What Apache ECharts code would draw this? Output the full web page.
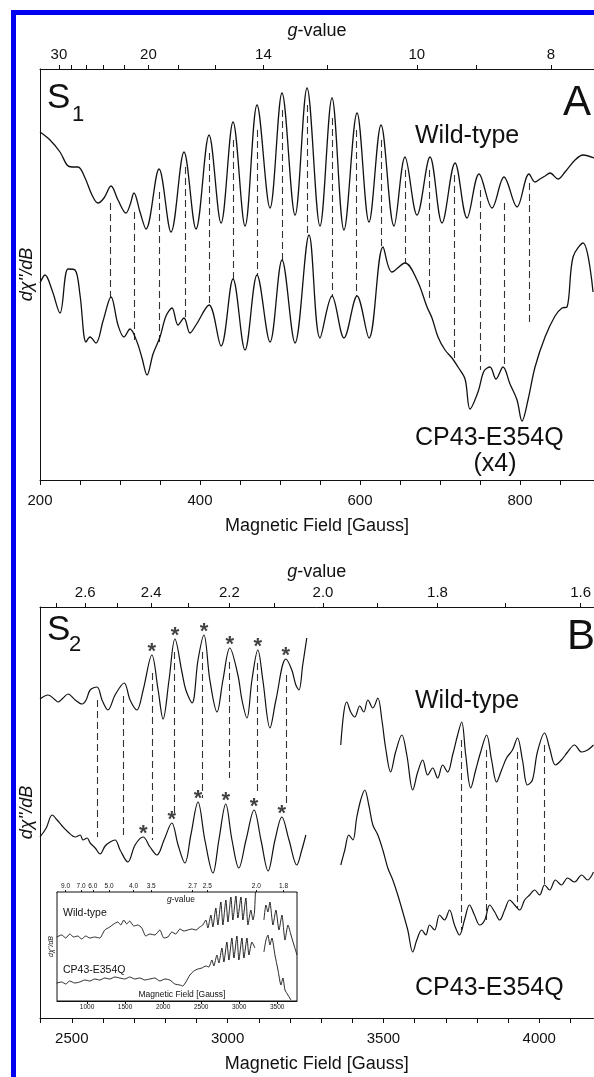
<!DOCTYPE html>
<html><head><meta charset="utf-8">
<script src="https://cdn.jsdelivr.net/npm/echarts@6/dist/echarts.min.js"></script>
<style>html,body{margin:0;padding:0;background:#fff}#c{width:594px;height:1077px}</style>
</head><body><div id="c"></div>
<script>
// ---------- Panel A (S1): [field (G), signal (arb. units)] ----------
const wtA = [[200,348],[212.5,340],[225,328],[233.8,315],[240,313],[247.5,313],[256.3,302],[265,285],[272.5,277],[280,282],[288.8,294],[297.5,280],[307.5,267],[312.5,275],[317.5,287],[325,268],[332.5,251],[348.8,311],[363.8,248],[380,328],[395,251],[411.3,345],[426.3,257],[441.3,358],[456.3,254],[471.3,375],[487.5,272],[502.5,387],[518.8,265],[533.8,392],[550,254],[565,382],[580,250],[596.3,367],[611.3,258],[626.3,355],[642.5,254],[656.3,323],[671.3,265],[687.5,323],[702.5,257],[718.8,317],[733.8,262],[748.8,306],[765,272],[780,303],[796.3,273],[811.3,306],[818.8,298],[825,301],[831.3,304],[837.5,307],[847.5,301],[856.3,308],[868.8,320],[878.8,325],[892.5,322]];
const cpA = [[200,197],[206.3,205],[215,190],[225,167],[235,211],[243.8,210],[250,185],[257.5,138],[262.5,143],[270,137],[278.8,159],[288.8,183],[297.5,155],[305,143],[312.5,151],[321.3,138],[327.5,122],[333.8,105],[341.3,126],[350,143],[357.5,164],[365,172],[372.5,155],[380,162],[387.5,147],[395,155],[411.3,175],[426.3,134],[441.3,201],[456.3,130],[471.3,205],[487.5,138],[502.5,220],[518.8,137],[536.3,245],[550,142],[565,184],[580,142],[596.3,184],[611.3,142],[628.8,233],[640,208],[656.3,217],[671.3,200],[683.8,173],[690,162],[697.5,143],[706.3,130],[715,122],[722.5,113],[731.3,101],[737.5,71],[747.5,88],[755,109],[762.5,113],[770,101],[778.8,113],[787.5,96],[796.3,80],[802.5,59],[810,80],[818.8,113],[831.3,143],[843.8,164],[852.5,172],[858.8,173],[866.3,223],[878.8,237],[891.3,188]];
const dashA_field  = [287.5,317.5,348.8,381.3,411.3,441.3,471.3,502.5,533.8,565,595,626.3,656.3,686.3,717.5,750,780,811.3];
const dashA_top    = [277,268,288,313,327,340,350,370,375,362,350,340,310,310,305,290,277,297];
const dashA_bottom = [183,140,135,162,175,201,205,220,245,184,184,233,217,180,120,110,113,155];

// ---------- Panel B (S2) ----------
const wtB_left = [[2398,319],[2424,323],[2447,318],[2456,316],[2472,320],[2488,324],[2511,318],[2533,314],[2546,318],[2559,328],[2581,331],[2597,318],[2616,308],[2639,323],[2668,335],[2687,318],[2709,308],[2729,328],[2757,363],[2777,328],[2793,299],[2812,338],[2831,379],[2854,345],[2866,328],[2886,315],[2905,358],[2924,383],[2943,338],[2966,306],[2985,338],[3007,370],[3033,343],[3046,318],[3062,300],[3078,338],[3097,368],[3113,338],[3136,290],[3155,318],[3187,359],[3206,348],[3219,333],[3229,328],[3241,353],[3254,380]];
const wtB_right = [[3363,273],[3373,306],[3382,316],[3395,306],[3408,301],[3424,312],[3437,306],[3450,318],[3466,310],[3482,320],[3495,298],[3507,270],[3523,246],[3539,266],[3559,283],[3575,263],[3594,228],[3610,246],[3626,258],[3642,243],[3658,250],[3674,240],[3690,253],[3706,246],[3722,263],[3738,283],[3751,296],[3764,263],[3780,230],[3796,248],[3812,266],[3831,283],[3847,258],[3863,236],[3879,248],[3895,260],[3914,268],[3930,280],[3946,258],[3962,233],[3978,238],[3994,266],[4017,285],[4033,270],[4052,253],[4071,258],[4091,266],[4113,273],[4136,266],[4155,268],[4174,273]];
const cpB_left = [[2398,181],[2418,190],[2437,203],[2453,198],[2469,192],[2488,186],[2511,181],[2527,183],[2536,178],[2549,180],[2559,175],[2575,170],[2591,164],[2607,172],[2623,176],[2639,178],[2655,168],[2680,156],[2703,173],[2729,181],[2751,171],[2773,163],[2796,178],[2821,195],[2841,173],[2863,155],[2882,183],[2905,216],[2927,178],[2953,145],[2972,178],[2994,214],[3014,178],[3036,150],[3059,178],[3085,208],[3107,178],[3130,147],[3152,178],[3174,201],[3197,178],[3222,153],[3238,168],[3251,183]];
const cpB_right = [[3363,153],[3376,168],[3389,183],[3402,178],[3414,200],[3427,218],[3440,228],[3453,213],[3466,193],[3482,183],[3498,168],[3514,150],[3530,138],[3546,123],[3562,106],[3578,88],[3594,66],[3607,78],[3623,88],[3636,83],[3648,93],[3664,88],[3680,103],[3696,98],[3712,108],[3728,93],[3744,83],[3760,98],[3776,113],[3792,103],[3809,93],[3825,98],[3841,113],[3857,106],[3873,98],[3889,108],[3905,118],[3921,113],[3937,108],[3953,118],[3969,123],[3985,128],[4001,123],[4017,133],[4033,128],[4052,138],[4071,133],[4091,140],[4113,136],[4136,143],[4155,138],[4174,146]];
const dashB_field  = [2581,2665,2757,2828,2918,3004,3094,3187,3751,3831,3930,4017];
const dashB_top    = [318,322,345,366,366,356,355,343,278,268,266,273];
const dashB_bottom = [181,180,178,201,220,240,226,215,88,98,110,130];
const starsWT = [[2757,363],[2831,379],[2924,383],[3007,370],[3097,368],[3187,359]];
const starsCP = [[2729,181],[2821,195],[2905,216],[2994,214],[3085,208],[3174,201]];

// ---------- Inset (full sweep) ----------
const inWT1 = [[601,64],[667,66],[720,63],[772,67],[825,64],[878,65],[930,62],[983,65],[1036,63],[1101,64],[1167,63],[1233,71],[1299,74],[1351,77],[1404,79],[1443,76],[1483,81],[1522,77],[1561,80],[1614,75],[1667,76],[1720,73],[1772,65],[1825,67],[1891,66],[1957,71],[2009,63],[2062,64],[2115,69],[2167,67],[2220,72],[2273,70],[2325,71],[2378,72],[2431,71],[2483,74],[2522,76],[2562,81],[2588,73],[2628,86],[2654,74],[2693,93],[2720,76],[2759,99],[2786,76],[2825,101],[2852,79],[2891,104],[2917,81],[2957,105],[2983,83],[3023,104],[3049,81],[3088,103],[3115,76],[3154,91],[3181,81],[3200,88],[3214,109]];
const inWT2 = [[3325,81],[3352,96],[3378,89],[3404,99],[3444,76],[3483,91],[3523,71],[3562,86],[3602,61],[3641,76],[3681,66],[3720,56],[3760,46]];
const inCP1 = [[601,18],[667,19],[720,17],[772,20],[838,18],[904,19],[970,21],[1036,20],[1101,22],[1167,21],[1233,23],[1299,22],[1365,24],[1430,23],[1496,22],[1561,24],[1628,22],[1693,23],[1759,21],[1825,22],[1891,23],[1957,20],[2023,22],[2088,21],[2154,17],[2220,16],[2259,15],[2299,19],[2352,26],[2404,30],[2457,32],[2509,33],[2562,35],[2601,34],[2641,41],[2667,35],[2707,46],[2733,38],[2773,53],[2799,39],[2838,59],[2865,41],[2904,63],[2931,43],[2970,65],[2996,41],[3036,63],[3062,43],[3102,63],[3128,46],[3167,59],[3207,53]];
const inCP2 = [[3325,49],[3352,61],[3378,66],[3404,56],[3431,63],[3470,46],[3510,31],[3549,16],[3575,23],[3602,11],[3641,6],[3681,1]];

// ---------- Axis ticks / labels ----------
const fieldTicksA = [200,250,300,350,400,450,500,550,600,650,700,750,800,850];
const fieldLabelsA = [200,400,600,800];
const gTicksA = [30,28,26,24,22,20,18,16,14,12,10,9,8];
const gLabelsA = [30,20,14,10,8];
const fieldTicksB = [2400,2500,2600,2700,2800,2900,3000,3100,3200,3300,3400,3500,3600,3700,3800,3900,4000,4100];
const fieldLabelsB = [2500,3000,3500,4000];
const gTicksB = [2.7,2.6,2.5,2.4,2.3,2.2,2.1,2.0,1.9,1.8,1.7,1.6];
const gLabelsB = [2.6,2.4,2.2,2.0,1.8,1.6];
const fieldLabelsIn = [1000,1500,2000,2500,3000,3500];
const gLabelsIn = [9.0,7.0,6.0,5.0,4.0,3.5,2.7,2.5,2.0,1.8];
// g·B products (hν/β, in G) used to place the g-value scales
const GB_A = 6710, GB_B = 6612, GB_IN = 6450;

const FONT = '"Liberation Sans", Arial, Helvetica, sans-serif';
const INK = '#111';

function fieldAxis(gi, min, max, ticks, labels, fs, margin, name, nameGap, nameFs, tickLen) {
  return { type:'value', gridIndex:gi, position:'bottom', min, max,
    axisLine:{show:true, onZero:false, lineStyle:{color:INK, width:1}},
    axisTick:{show:true, length:tickLen, customValues:ticks, lineStyle:{color:INK, width:1}},
    axisLabel:{show:true, customValues:labels, formatter:v => String(v), fontSize:fs, margin, color:INK, fontFamily:FONT},
    splitLine:{show:false},
    name, nameLocation:'middle', nameGap,
    nameTextStyle:{fontSize:nameFs, color:INK, fontFamily:FONT} };
}
function gAxis(gi, min, max, C, ticks, labels, dec, fs, margin, nameGap, nameFs, tickLen, showName) {
  return { type:'value', gridIndex:gi, position:'top', min, max,
    axisLine:{show:true, onZero:false, lineStyle:{color:INK, width:1}},
    axisTick:{show:true, length:tickLen, customValues:ticks.map(g => C / g), lineStyle:{color:INK, width:1}},
    axisLabel:{show:true, customValues:labels.map(g => C / g), formatter:v => (C / v).toFixed(dec),
      fontSize:fs, margin, color:INK, fontFamily:FONT},
    splitLine:{show:false},
    name: showName ? '{i|g}-value' : '', nameLocation:'middle', nameGap,
    nameTextStyle:{fontSize:nameFs, color:INK, fontFamily:FONT,
      rich:{i:{fontStyle:'italic', fontSize:nameFs, color:INK, fontFamily:FONT}}} };
}
function sigAxis(gi, max, nameFs, nameGap) {
  return { type:'value', gridIndex:gi, min:0, max,
    axisLine:{show:true, onZero:false, lineStyle:{color:INK, width:1}},
    axisTick:{show:false}, axisLabel:{show:false}, splitLine:{show:false},
    name:"dχ''/dB", nameLocation:'middle', nameRotate:90, nameGap,
    nameTextStyle:{fontSize:nameFs, fontStyle:'italic', color:INK, fontFamily:FONT} };
}
function curve(data, xi, yi, w) {
  return { type:'line', data, xAxisIndex:xi, yAxisIndex:yi, showSymbol:false, symbol:'none',
    smooth:0.35, lineStyle:{color:INK, width:w}, silent:true, z:3 };
}
function dashes(field, top, bot, xi, yi) {
  return { type:'lines', coordinateSystem:'cartesian2d', xAxisIndex:xi, yAxisIndex:yi, silent:true,
    data: field.map((f, i) => ({coords:[[f, top[i]], [f, bot[i]]]})),
    lineStyle:{color:'#333', width:1.1, type:[7,4], opacity:1}, z:2 };
}
function stars(data, xi, yi) {
  return { type:'scatter', data, xAxisIndex:xi, yAxisIndex:yi, symbolSize:1, silent:true,
    itemStyle:{color:'rgba(0,0,0,0)'},
    label:{show:true, formatter:'*', position:'inside', offset:[0,-3], fontSize:22, fontWeight:'bold', color:INK, fontFamily:FONT}, z:4 };
}
function txt(text, x, y, size, align) {
  return { type:'text', x, y, z:100,
    style:{text, fontSize:size, fontFamily:FONT, fill:INK, align:align || 'left', verticalAlign:'middle'} };
}

const option = {
  animation:false,
  backgroundColor:'#fff',
  grid:[
    {left:40, top:69, width:554, height:411},
    {left:40, top:607, width:554, height:411},
    {left:57, top:892, width:240, height:109, show:true, backgroundColor:'#fff', borderColor:INK, borderWidth:1, z:5}
  ],
  xAxis:[
    fieldAxis(0, 200, 892.5, fieldTicksA, fieldLabelsA, 15, 13, 'Magnetic Field [Gauss]', 37, 18, 5),
    gAxis(0, 200, 892.5, GB_A, gTicksA, gLabelsA, 0, 15, 7, 29, 18, 4, true),
    fieldAxis(1, 2398, 4174, fieldTicksB, fieldLabelsB, 15, 13, 'Magnetic Field [Gauss]', 37, 18, 5),
    gAxis(1, 2398, 4174, GB_B, gTicksB, gLabelsB, 1, 15, 7, 26, 18, 4, true),
    fieldAxis(2, 605, 3760, fieldLabelsIn, fieldLabelsIn, 6.5, 3, '', 0, 8, 3),
    gAxis(2, 605, 3760, GB_IN, gLabelsIn, gLabelsIn, 1, 6.5, 2, 0, 8, 2, false)
  ],
  yAxis:[ sigAxis(0, 411, 18, 4), sigAxis(1, 411, 18, 4), sigAxis(2, 109, 7, 2) ],
  series:[
    dashes(dashA_field, dashA_top, dashA_bottom, 0, 0),
    curve(wtA, 0, 0, 1.3), curve(cpA, 0, 0, 1.3),
    dashes(dashB_field, dashB_top, dashB_bottom, 2, 1),
    curve(wtB_left, 2, 1, 1.2), curve(wtB_right, 2, 1, 1.2),
    curve(cpB_left, 2, 1, 1.2), curve(cpB_right, 2, 1, 1.2),
    stars(starsWT, 2, 1), stars(starsCP, 2, 1),
    Object.assign(curve(inWT1, 4, 2, 0.9), {z:10, smooth:0.2}),
    Object.assign(curve(inWT2, 4, 2, 0.9), {z:10, smooth:0.2}),
    Object.assign(curve(inCP1, 4, 2, 0.9), {z:10, smooth:0.2}),
    Object.assign(curve(inCP2, 4, 2, 0.9), {z:10, smooth:0.2})
  ],
  graphic:[
    {type:'rect', z:100, shape:{x:11, y:10, width:5, height:1067}, style:{fill:'#0000f0'}},
    {type:'rect', z:100, shape:{x:11, y:10, width:583, height:5}, style:{fill:'#0000f0'}},
    txt('S', 47, 98, 35), txt('1', 72, 115, 22), txt('A', 563, 103, 42),
    txt('Wild-type', 415, 136, 25),
    txt('CP43-E354Q', 415, 438, 25), txt('(x4)', 495, 464, 25, 'center'),
    txt('S', 47, 630, 35), txt('2', 69, 645, 22), txt('B', 567, 637, 42),
    txt('Wild-type', 415, 701, 25),
    txt('CP43-E354Q', 415, 988, 25),
    {type:'text', x:181, y:900, z:100, style:{text:'{i|g}-value', fontSize:8.5, fontFamily:FONT, fill:INK, align:'center', verticalAlign:'middle',
      rich:{i:{fontStyle:'italic', fontSize:8.5, fontFamily:FONT, fill:INK}}}},
    txt('Wild-type', 63, 913, 10.5),
    txt('CP43-E354Q', 63, 970, 10.5),
    txt('Magnetic Field [Gauss]', 182, 995, 8.5, 'center')
  ]
};
const chart = echarts.init(document.getElementById('c'));
chart.setOption(option);
</script>
</body></html>
